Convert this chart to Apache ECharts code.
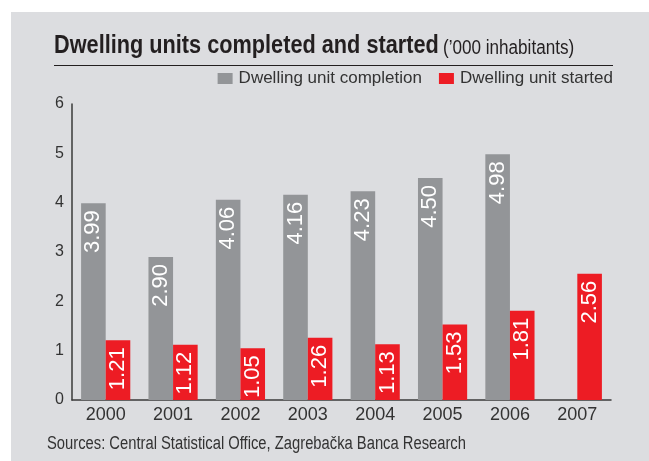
<!DOCTYPE html>
<html>
<head>
<meta charset="utf-8">
<title>Dwelling units completed and started</title>
<script src="https://cdn.jsdelivr.net/npm/echarts@6/dist/echarts.min.js"></script>
<style>
  html, body { margin: 0; padding: 0; background: #fff; }
  #chart { width: 649px; height: 461px; }
</style>
</head>
<body>
<div id="chart"></div>
<script>
const years = ['2000', '2001', '2002', '2003', '2004', '2005', '2006', '2007']
const completion = [3.99, 2.90, 4.06, 4.16, 4.23, 4.50, 4.98, null]
const started = [1.21, 1.12, 1.05, 1.26, 1.13, 1.53, 1.81, 2.56]
const yTicks = [0, 1, 2, 3, 4, 5, 6]

// no condensed font installed, so the header texts are squeezed with scaleX
const FONT = '"Liberation Sans", Arial, sans-serif'
const TEXT = '#231f20'
const LABEL = '#333'

const chart = echarts.init(document.getElementById('chart'))

const barLabel = {
  show: true,
  position: 'insideTop',
  distance: 7,
  rotate: 90,
  align: 'right',
  verticalAlign: 'middle',
  color: '#fff',
  fontFamily: FONT,
  fontSize: 22,
  formatter: (p) => p.value.toFixed(2),
}

chart.setOption({
  backgroundColor: '#fff',
  animation: false,
  graphic: [
    {
      type: 'rect',
      shape: { x: 11, y: 12, width: 638, height: 449 },
      style: { fill: '#dcdde0' },
      z: -10,
    },
    {
      type: 'text',
      x: 54,
      y: 46,
      scaleX: 0.835,
      style: {
        text: 'Dwelling units completed and started',
        fontFamily: FONT,
        fontWeight: 'bold',
        fontSize: 26,
        fill: TEXT,
        verticalAlign: 'middle',
      },
    },
    {
      type: 'text',
      x: 443,
      y: 48,
      scaleX: 0.855,
      style: {
        text: '(\u2019000 inhabitants)',
        fontFamily: FONT,
        fontSize: 20,
        fill: TEXT,
        verticalAlign: 'middle',
      },
    },
    {
      type: 'line',
      shape: { x1: 54, y1: 65.5, x2: 613, y2: 65.5 },
      style: { stroke: TEXT, lineWidth: 1.2 },
    },
    {
      type: 'text',
      x: 47,
      y: 444,
      scaleX: 0.82,
      style: {
        text: 'Sources: Central Statistical Office, Zagreba\u010dka Banca Research',
        fontFamily: FONT,
        fontSize: 18,
        fill: LABEL,
        verticalAlign: 'middle',
      },
    },
  ],
  legend: {
    right: 36,
    top: 70,
    padding: 0,
    itemWidth: 15,
    itemHeight: 11,
    itemGap: 17,
    icon: 'rect',
    textStyle: { fontFamily: FONT, fontSize: 17, color: LABEL, padding: [0, 0, 0, 1] },
    data: ['Dwelling unit completion', 'Dwelling unit started'],
  },
  grid: { left: 72, right: 38, top: 104, bottom: 61 },
  xAxis: {
    type: 'category',
    data: years,
    axisLine: { lineStyle: { color: '#3a3a3a', width: 1.5 } },
    axisTick: { show: false },
    axisLabel: { fontFamily: FONT, fontSize: 18, color: LABEL, margin: 6 },
  },
  yAxis: {
    type: 'value',
    min: yTicks[0],
    max: yTicks[yTicks.length - 1],
    interval: 1,
    axisLine: { show: true, lineStyle: { color: '#3a3a3a', width: 1.5 } },
    axisTick: { show: false },
    splitLine: { show: false },
    axisLabel: {
      fontFamily: FONT,
      fontSize: 16,
      color: LABEL,
      margin: 8,
      padding: [6, 0, 0, 0],
    },
  },
  series: [
    {
      name: 'Dwelling unit completion',
      type: 'bar',
      data: completion,
      itemStyle: { color: '#939598' },
      barGap: '0%',
      barCategoryGap: '27%',
      label: barLabel,
    },
    {
      name: 'Dwelling unit started',
      type: 'bar',
      data: started,
      itemStyle: { color: '#ed1c24' },
      label: barLabel,
    },
  ],
})
</script>
</body>
</html>
